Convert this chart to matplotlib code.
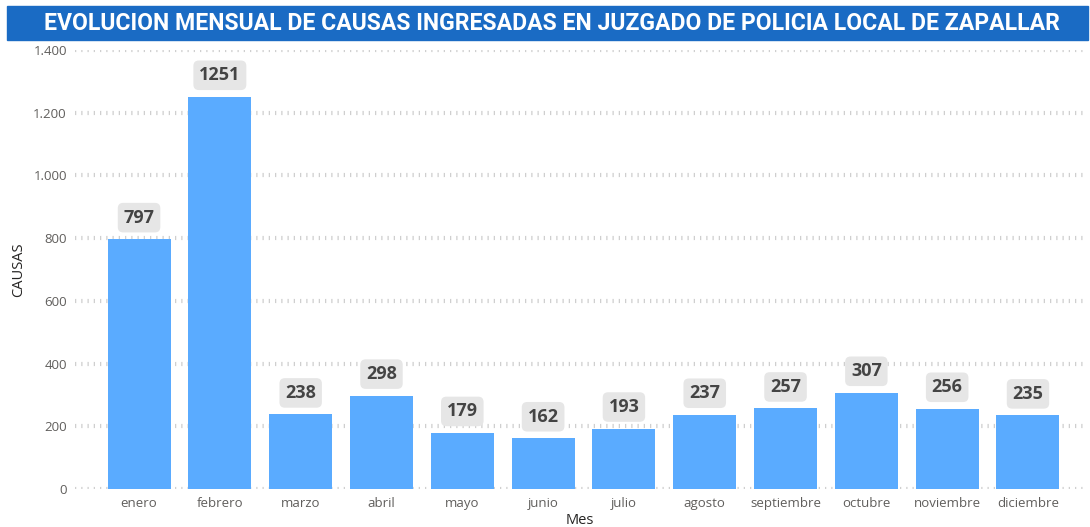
import matplotlib.pyplot as plt
from matplotlib.patches import Rectangle
from matplotlib.ticker import FuncFormatter
from matplotlib import font_manager

# Datos: causas ingresadas por mes
meses = ['enero', 'febrero', 'marzo', 'abril', 'mayo', 'junio', 'julio',
         'agosto', 'septiembre', 'octubre', 'noviembre', 'diciembre']
causas = [797, 1251, 238, 298, 179, 162, 193, 237, 257, 307, 256, 235]
y_ticks = [0, 200, 400, 600, 800, 1000, 1200, 1400]

titulo = 'EVOLUCION MENSUAL DE CAUSAS INGRESADAS EN JUZGADO DE POLICIA LOCAL DE ZAPALLAR'

# fuente angosta para el titulo, si existe
nombres = {f.name for f in font_manager.fontManager.ttflist}
fuente_titulo = 'Roboto'
for cand in ['Liberation Sans Narrow', 'DejaVu Sans Condensed']:
    if cand in nombres:
        fuente_titulo = cand
        break

fig = plt.figure(figsize=(10.9, 5.27), dpi=100)
ax = fig.add_axes([0.069, 0.072, 0.926, 0.833])

x = list(range(len(meses)))
ax.bar(x, causas, width=0.78, color='#5aabff', zorder=2)

# etiquetas de datos con caja gris
for xi, v in zip(x, causas):
    ax.annotate(str(v), (xi, v), xytext=(0, 9), textcoords='offset points',
                ha='center', va='bottom', fontsize=13, fontweight='bold',
                color='#444444', family='Open Sans',
                bbox=dict(boxstyle='round,pad=0.32,rounding_size=0.3',
                          fc='#e6e6e6', ec='none'))

ax.set_xlim(-0.79, 11.7)
ax.set_ylim(0, 1400)
ax.set_yticks(y_ticks)
ax.yaxis.set_major_formatter(FuncFormatter(lambda v, p: f'{int(v):,}'.replace(',', '.')))
ax.set_xticks(x)
ax.set_xticklabels(meses)
ax.tick_params(length=0, labelsize=9.5, colors='#605e5c', pad=6)
for lab in ax.get_xticklabels() + ax.get_yticklabels():
    lab.set_family('Open Sans')

ax.grid(axis='y', color='#cfcfcf', linestyle=(0, (0.3, 1.2)), linewidth=3, zorder=3)
for s in ax.spines.values():
    s.set_visible(False)

ax.set_ylabel('CAUSAS', fontsize=10.5, color='#252423', family='Open Sans', labelpad=5)
ax.set_xlabel('Mes', fontsize=10.5, color='#252423', family='Open Sans', labelpad=2)

# banda del titulo
fig.patches.append(Rectangle((0.006, 0.925), 0.992, 0.063, transform=fig.transFigure,
                             color='#1a6bc4', zorder=0))
t = fig.text(0.506, 0.956, titulo, ha='center', va='center', color='white',
             fontsize=17, fontweight='bold', family=fuente_titulo)

# ajustar tamaño del titulo al ancho de la banda
fig.canvas.draw()
ancho = t.get_window_extent().width
objetivo = 1017
t.set_fontsize(17 * objetivo / ancho)

fig.savefig('out.png', dpi=100)
